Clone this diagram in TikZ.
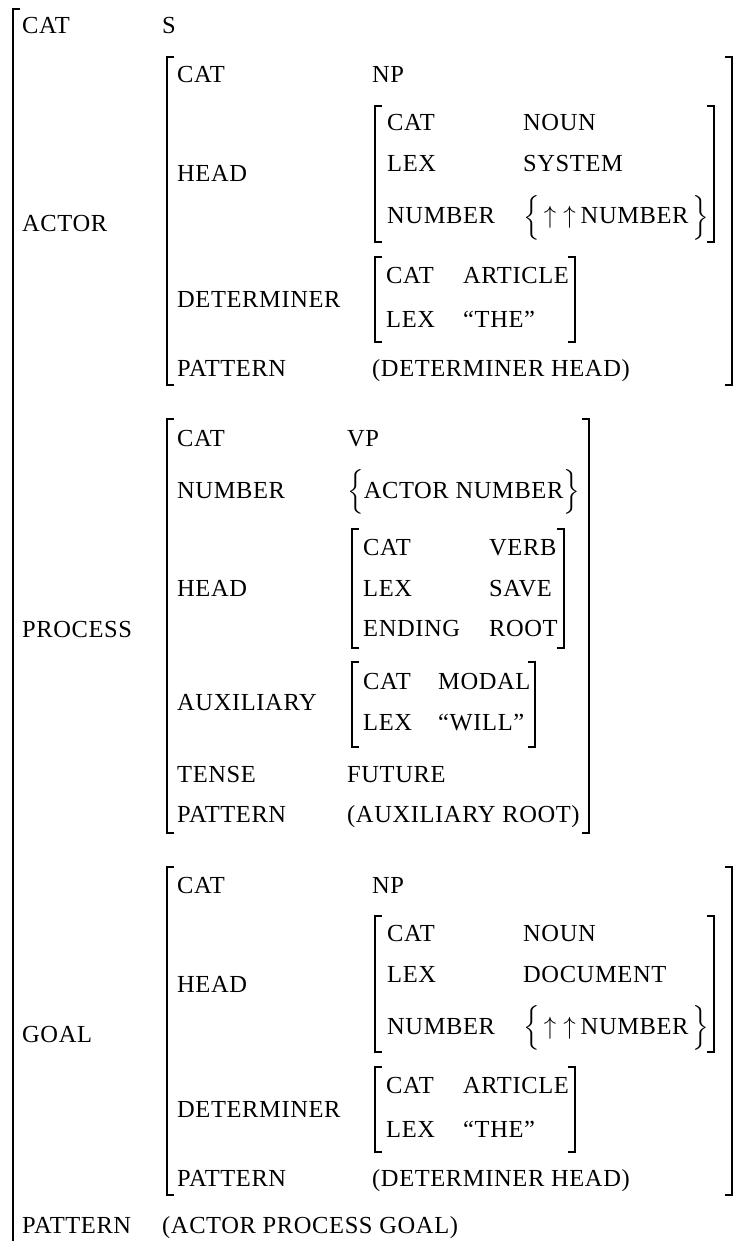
\documentclass[tikz,border=0pt]{standalone}
\usepackage{exscale}
\usepackage{fontspec}
\setmainfont{Liberation Serif}[LetterSpace=2.5]
\usetikzlibrary{positioning}
% a set of values between tall braces
\newcommand\setof[1]{$\left\{\vcenter{\hbox{\rule{0pt}{44pt}}}#1\right\}$}
\newcommand\up{\mathord{\uparrow}}
% left and right brackets: x, top, bottom
\newcommand\lbrk[3]{\draw[brk] (#1+7,#2) -- (#1,#2) -- (#1,#3) -- (#1+7,#3);}
\newcommand\rbrk[3]{\draw[brk] (#1-7,#2) -- (#1,#2) -- (#1,#3) -- (#1-7,#3);}

\begin{document}
\begin{tikzpicture}[x=1pt,y=-1pt,
  txt/.style={anchor=base west,inner sep=0pt,font=\fontsize{24.5}{30}\selectfont},
  brk/.style={line width=2pt,line cap=butt,line join=miter}]
  \useasboundingbox (0,0) rectangle (737,1241);
  % sentence
  \draw[brk] (20,9) -- (13,9) -- (13,1250);
  \node[txt] (s-cat) at (22,34) {CAT};
  \node[txt] (s-cat-v) at (162,34) {S};
  \node[txt] (s-actor) at (22,232) {ACTOR};
  \node[txt] (s-process) at (22,637) {PROCESS};
  \node[txt] (s-goal) at (22,1042) {GOAL};
  \node[txt] (s-pat) at (22,1233) {PATTERN};
  \node[txt] (s-pat-v) at (162,1233) {(ACTOR PROCESS GOAL)};
  % actor and goal noun phrases
  \foreach \np/\dy/\lex in {actor/0/SYSTEM,goal/810/DOCUMENT}{
    \begin{scope}[shift={(0,\dy)}]
      \lbrk{167}{57}{385} \rbrk{732}{57}{385}
      \node[txt] (\np-cat) at (177,83) {CAT};
      \node[txt] (\np-cat-v) at (372,83) {NP};
      \node[txt] (\np-head) at (177,182) {HEAD};
      \lbrk{375}{106}{242} \rbrk{714}{106}{242}
      \node[txt] (\np-h-cat) at (387,131) {CAT};
      \node[txt] (\np-h-cat-v) at (523,131) {NOUN};
      \node[txt] (\np-h-lex) at (387,172) {LEX};
      \node[txt] (\np-h-lex-v) at (523,172) {\lex};
      \node[txt] (\np-h-num) at (387,224) {NUMBER};
      \node[txt] (\np-h-num-v) at (523,224) {\setof{\,\up\;\up\hspace{5pt}\mbox{NUMBER}\hspace{4pt}}};
      \node[txt] (\np-det) at (177,307) {DETERMINER};
      \lbrk{375}{257}{342} \rbrk{575}{257}{342}
      \node[txt] (\np-d-cat) at (386,283) {CAT};
      \node[txt] (\np-d-cat-v) at (463,283) {ARTICLE};
      \node[txt] (\np-d-lex) at (386,327) {LEX};
      \node[txt] (\np-d-lex-v) at (463,327) {“THE”};
      \node[txt] (\np-pat) at (177,376) {PATTERN};
      \node[txt] (\np-pat-v) at (372,376) {(DETERMINER HEAD)};
    \end{scope}
  }
  % process verb phrase
  \lbrk{167}{419}{833} \rbrk{589}{419}{833}
  \node[txt] (vp-cat) at (177,446) {CAT};
  \node[txt] (vp-cat-v) at (347,446) {VP};
  \node[txt] (vp-num) at (177,498) {NUMBER};
  \node[txt] (vp-num-v) at (347,498) {\setof{\mbox{ACTOR NUMBER}}};
  \node[txt] (vp-head) at (177,596) {HEAD};
  \lbrk{352}{529}{648} \rbrk{564}{529}{648}
  \node[txt] (vp-h-cat) at (363,555) {CAT};
  \node[txt] (vp-h-cat-v) at (489,555) {VERB};
  \node[txt] (vp-h-lex) at (363,596) {LEX};
  \node[txt] (vp-h-lex-v) at (489,596) {SAVE};
  \node[txt] (vp-h-end) at (363,636) {ENDING};
  \node[txt] (vp-h-end-v) at (489,636) {ROOT};
  \node[txt] (vp-aux) at (177,710) {AUXILIARY};
  \lbrk{352}{662}{747} \rbrk{535}{662}{747}
  \node[txt] (vp-a-cat) at (363,689) {CAT};
  \node[txt] (vp-a-cat-v) at (438,689) {MODAL};
  \node[txt] (vp-a-lex) at (363,730) {LEX};
  \node[txt] (vp-a-lex-v) at (438,730) {“WILL”};
  \node[txt] (vp-tense) at (177,782) {TENSE};
  \node[txt] (vp-tense-v) at (347,782) {FUTURE};
  \node[txt] (vp-pat) at (177,822) {PATTERN};
  \node[txt] (vp-pat-v) at (347,822) {(AUXILIARY ROOT)};
\end{tikzpicture}
\end{document}
